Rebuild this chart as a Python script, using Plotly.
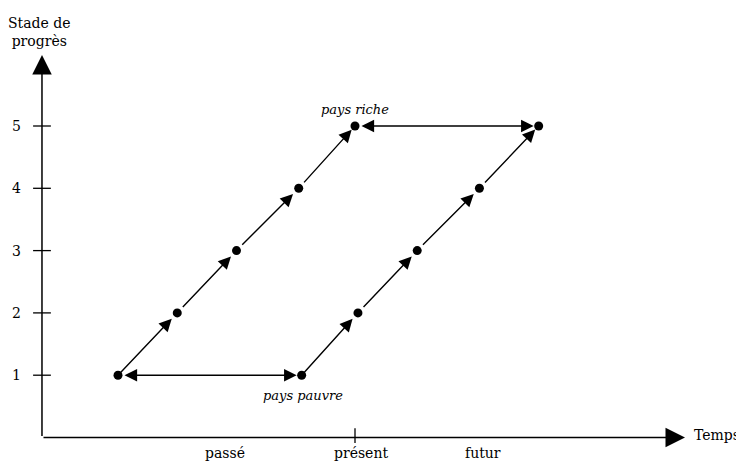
import plotly.graph_objects as go

# ---- data ----
levels = [1, 2, 3, 4, 5]
rich_time = [1.0, 2.0, 3.0, 4.05, 5.0]      # pays riche path (past)
poor_time = [4.1, 5.05, 6.05, 7.1, 8.1]     # pays pauvre path (future)
y_ticks = [1, 2, 3, 4, 5]
present = 5.0
time_labels = ["passé", "présent", "futur"]
time_label_pos = [2.81, 5.1, 7.16]

# axes geometry (data units)
x_origin = -0.283
x_end = 10.57
y_end = 6.14

FONT = "DejaVu Serif"
BIG = 14
fig = go.Figure()

# points
fig.add_trace(go.Scatter(x=rich_time + poor_time, y=levels + levels, mode="markers",
                         marker=dict(color="black", size=9), hoverinfo="skip"))

anns = []
# diagonal arrows
for path in (rich_time, poor_time):
    for i in range(len(path) - 1):
        anns.append(dict(x=path[i + 1], y=levels[i + 1], ax=path[i], ay=levels[i],
                         xref="x", yref="y", axref="x", ayref="y", showarrow=True,
                         arrowhead=2, arrowsize=1.8, arrowwidth=1.4, arrowcolor="black",
                         standoff=5 if i == len(path) - 2 else 8,
                         startstandoff=0 if i == 0 else 6, text=""))
# horizontal double arrows
for lv, a, b in ((levels[0], rich_time[0], poor_time[0]), (levels[-1], rich_time[-1], poor_time[-1])):
    anns.append(dict(x=b, y=lv, ax=a, ay=lv, xref="x", yref="y", axref="x", ayref="y",
                     showarrow=True, arrowhead=2, startarrowhead=2, arrowside="end+start",
                     arrowsize=1.8, startarrowsize=1.8, arrowwidth=1.4, arrowcolor="black",
                     standoff=5, startstandoff=5, text=""))
# axes
anns.append(dict(x=x_end, y=0, ax=x_origin, ay=0, xref="x", yref="y", axref="x", ayref="y",
                 showarrow=True, arrowhead=2, arrowsize=2.6, arrowwidth=1.5, arrowcolor="black", text=""))
anns.append(dict(x=x_origin, y=y_end, ax=x_origin, ay=0, xref="x", yref="y", axref="x", ayref="y",
                 showarrow=True, arrowhead=2, arrowsize=2.6, arrowwidth=1.5, arrowcolor="black", text=""))

shapes = []
for t in y_ticks:
    shapes.append(dict(type="line", xref="x", yref="y", x0=x_origin - 0.15, x1=x_origin + 0.15,
                       y0=t, y1=t, line=dict(color="black", width=1.3)))
    anns.append(dict(x=-0.705, y=t, xref="x", yref="y", text=str(t), showarrow=False,
                     xanchor="center", font=dict(family=FONT, size=BIG, color="black")))
shapes.append(dict(type="line", xref="x", yref="y", x0=present, x1=present, y0=-0.09, y1=0.15,
                   line=dict(color="black", width=1.3)))

for lab, pos in zip(time_labels, time_label_pos):
    anns.append(dict(x=pos, y=-0.25, xref="x", yref="y", text=lab, showarrow=False,
                     font=dict(family=FONT, size=BIG, color="black")))

anns.append(dict(x=11.52, y=0.04, xref="x", yref="y", text="Temps", showarrow=False,
                 xanchor="right", borderpad=0, font=dict(family=FONT, size=BIG, color="black")))
anns.append(dict(x=-0.333, y=6.51, xref="x", yref="y", text="Stade de<br>progrès",
                 showarrow=False, borderpad=0, font=dict(family=FONT, size=BIG, color="black")))
anns.append(dict(x=rich_time[-1], y=5.26, xref="x", yref="y", text="<i>pays riche</i>",
                 showarrow=False, font=dict(family=FONT, size=13, color="black")))
anns.append(dict(x=4.12, y=0.68, xref="x", yref="y", text="<i>pays pauvre</i>",
                 showarrow=False, font=dict(family=FONT, size=13, color="black")))

# page body has an 8px margin: size the figure so it fits the 744x464 window
W, H = 736, 456
PX_PER_X, PX_PER_Y = 59.25, 62.3
X0_PX, Y0_PX = 50.75, 429.5
fig.update_layout(
    width=W, height=H, margin=dict(l=0, r=0, t=0, b=0),
    paper_bgcolor="white", plot_bgcolor="white", showlegend=False,
    xaxis=dict(range=[-X0_PX / PX_PER_X, (W - X0_PX) / PX_PER_X], visible=False, fixedrange=True),
    yaxis=dict(range=[-(H - Y0_PX) / PX_PER_Y, Y0_PX / PX_PER_Y], visible=False, fixedrange=True),
    annotations=anns, shapes=shapes,
)
fig.write_html("out.html")
